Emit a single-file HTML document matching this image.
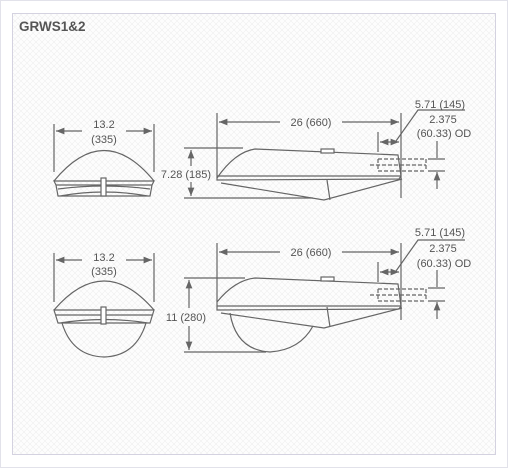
<!DOCTYPE html>
<html><head><meta charset="utf-8"><style>
html,body{margin:0;padding:0;background:#fff}
svg{display:block}
text{font-family:"Liberation Sans",sans-serif;fill:#555;font-size:11px}
</style></head><body>
<svg width="508" height="468" viewBox="0 0 508 468">
<defs>
<pattern id="hatch" width="6" height="6" patternUnits="userSpaceOnUse">
<path d="M0 0L6 6M6 0L0 6" stroke="#eeeeee" stroke-width="0.6"/>
</pattern>
<marker id="ar" viewBox="0 0 10 10" refX="10" refY="5" markerWidth="7" markerHeight="7" orient="auto-start-reverse"><path d="M0 1L10 5L0 9z" fill="#666"/></marker>
</defs>
<rect x="0.5" y="0.5" width="507" height="467" fill="#fff" stroke="#e2e2ea"/>
<rect x="12.5" y="13.5" width="483" height="441" fill="#fdfdfd" stroke="#d4d2e0"/>
<rect x="13" y="14" width="482" height="440" fill="url(#hatch)"/>
<text x="19" y="31" style="font-weight:bold;font-size:13.5px;fill:#555">GRWS1&amp;2</text>

<g stroke="#666" stroke-width="1.2" fill="none">
<!-- top front view -->
<g>
<path d="M54 124V172M154 124V172"/>
<path d="M56 131H82M126 131H152" marker-start="url(#ar)" marker-end="url(#ar)"/>
<path d="M54 181Q104 120 154 181"/>
<path d="M54 181L56 185H152L154 181ZM54 181H154M56 185L58 196H150L152 185M58 189Q104 183 150 189M60 196Q104 188 148 196"/>
<rect x="101" y="178" width="5" height="18" fill="#fff"/>
</g>
<!-- top side view -->
<g>
<path d="M217 113V178M401 113V198M378 132V152"/>
<path d="M219 122H280M342 122H399" marker-start="url(#ar)" marker-end="url(#ar)"/>
<path d="M380 142H399" marker-start="url(#ar)" marker-end="url(#ar)"/>
<path d="M396 141L418 110H465"/>
<path d="M217 178Q235 152 255 149L398 155L401 176L399 179L217 180Z"/>
<path d="M217 176H401M221 183L324 200L402 179M327 180L330 200"/>
<rect x="321" y="149" width="13" height="4" fill="#fff"/>
<path d="M378 159H426M378 171H426M370 165H426M378 159V171M426 159V171" stroke-dasharray="4 2"/>
<path d="M428 159H445M428 171H445"/>
<path d="M437 141V158M437 189V172" marker-end="url(#ar)"/>
<path d="M184 148H243M184 198H313"/>
<path d="M191 150V166M191 182V196" marker-start="url(#ar)" marker-end="url(#ar)"/>
</g>
<!-- bottom front view -->
<g>
<path d="M54 253V302M154 253V302"/>
<path d="M56 260H82M126 260H152" marker-start="url(#ar)" marker-end="url(#ar)"/>
<path d="M54 310Q104 252 154 310"/>
<path d="M54 310H154L150 323H58ZM56 315H152M60 323Q104 316 148 323"/>
<path d="M62 323Q72 356 104 357Q136 356 146 323"/>
<rect x="101" y="307" width="5" height="17" fill="#fff"/>
</g>
<!-- bottom side view -->
<g>
<path d="M217 243V302M401 243V320M378 262V282"/>
<path d="M219 252H280M342 252H399" marker-start="url(#ar)" marker-end="url(#ar)"/>
<path d="M380 272H399" marker-start="url(#ar)" marker-end="url(#ar)"/>
<path d="M396 271L418 240H465"/>
<path d="M230 313Q236 350 270 352Q300 350 313 326"/>
<path d="M217 302Q235 280 255 278L398 284L401 306L399 309L217 310Z"/>
<path d="M217 306H401M221 313L324 328L402 308M327 307L330 327"/>
<rect x="321" y="277" width="13" height="4" fill="#fff"/>
<path d="M378 289H426M378 301H426M370 295H426M378 289V301M426 289V301" stroke-dasharray="4 2"/>
<path d="M428 288H445M428 301H445"/>
<path d="M437 270V287M437 319V302" marker-end="url(#ar)"/>
<path d="M184 278H245M184 352H266"/>
<path d="M189 280V308M189 326V350" marker-start="url(#ar)" marker-end="url(#ar)"/>
</g>
</g>

<g text-anchor="middle">
<text x="104" y="128">13.2</text>
<text x="104" y="143">(335)</text>
<text x="311" y="126">26 (660)</text>
<text x="440" y="108">5.71 (145)</text>
<text x="443" y="123">2.375</text>
<text x="444" y="137">(60.33) OD</text>
<text x="186" y="178">7.28 (185)</text>
<text x="104" y="261">13.2</text>
<text x="104" y="275">(335)</text>
<text x="311" y="256">26 (660)</text>
<text x="440" y="236">5.71 (145)</text>
<text x="443" y="252">2.375</text>
<text x="444" y="267">(60.33) OD</text>
<text x="186" y="321">11 (280)</text>
</g>
</svg>
</body></html>
